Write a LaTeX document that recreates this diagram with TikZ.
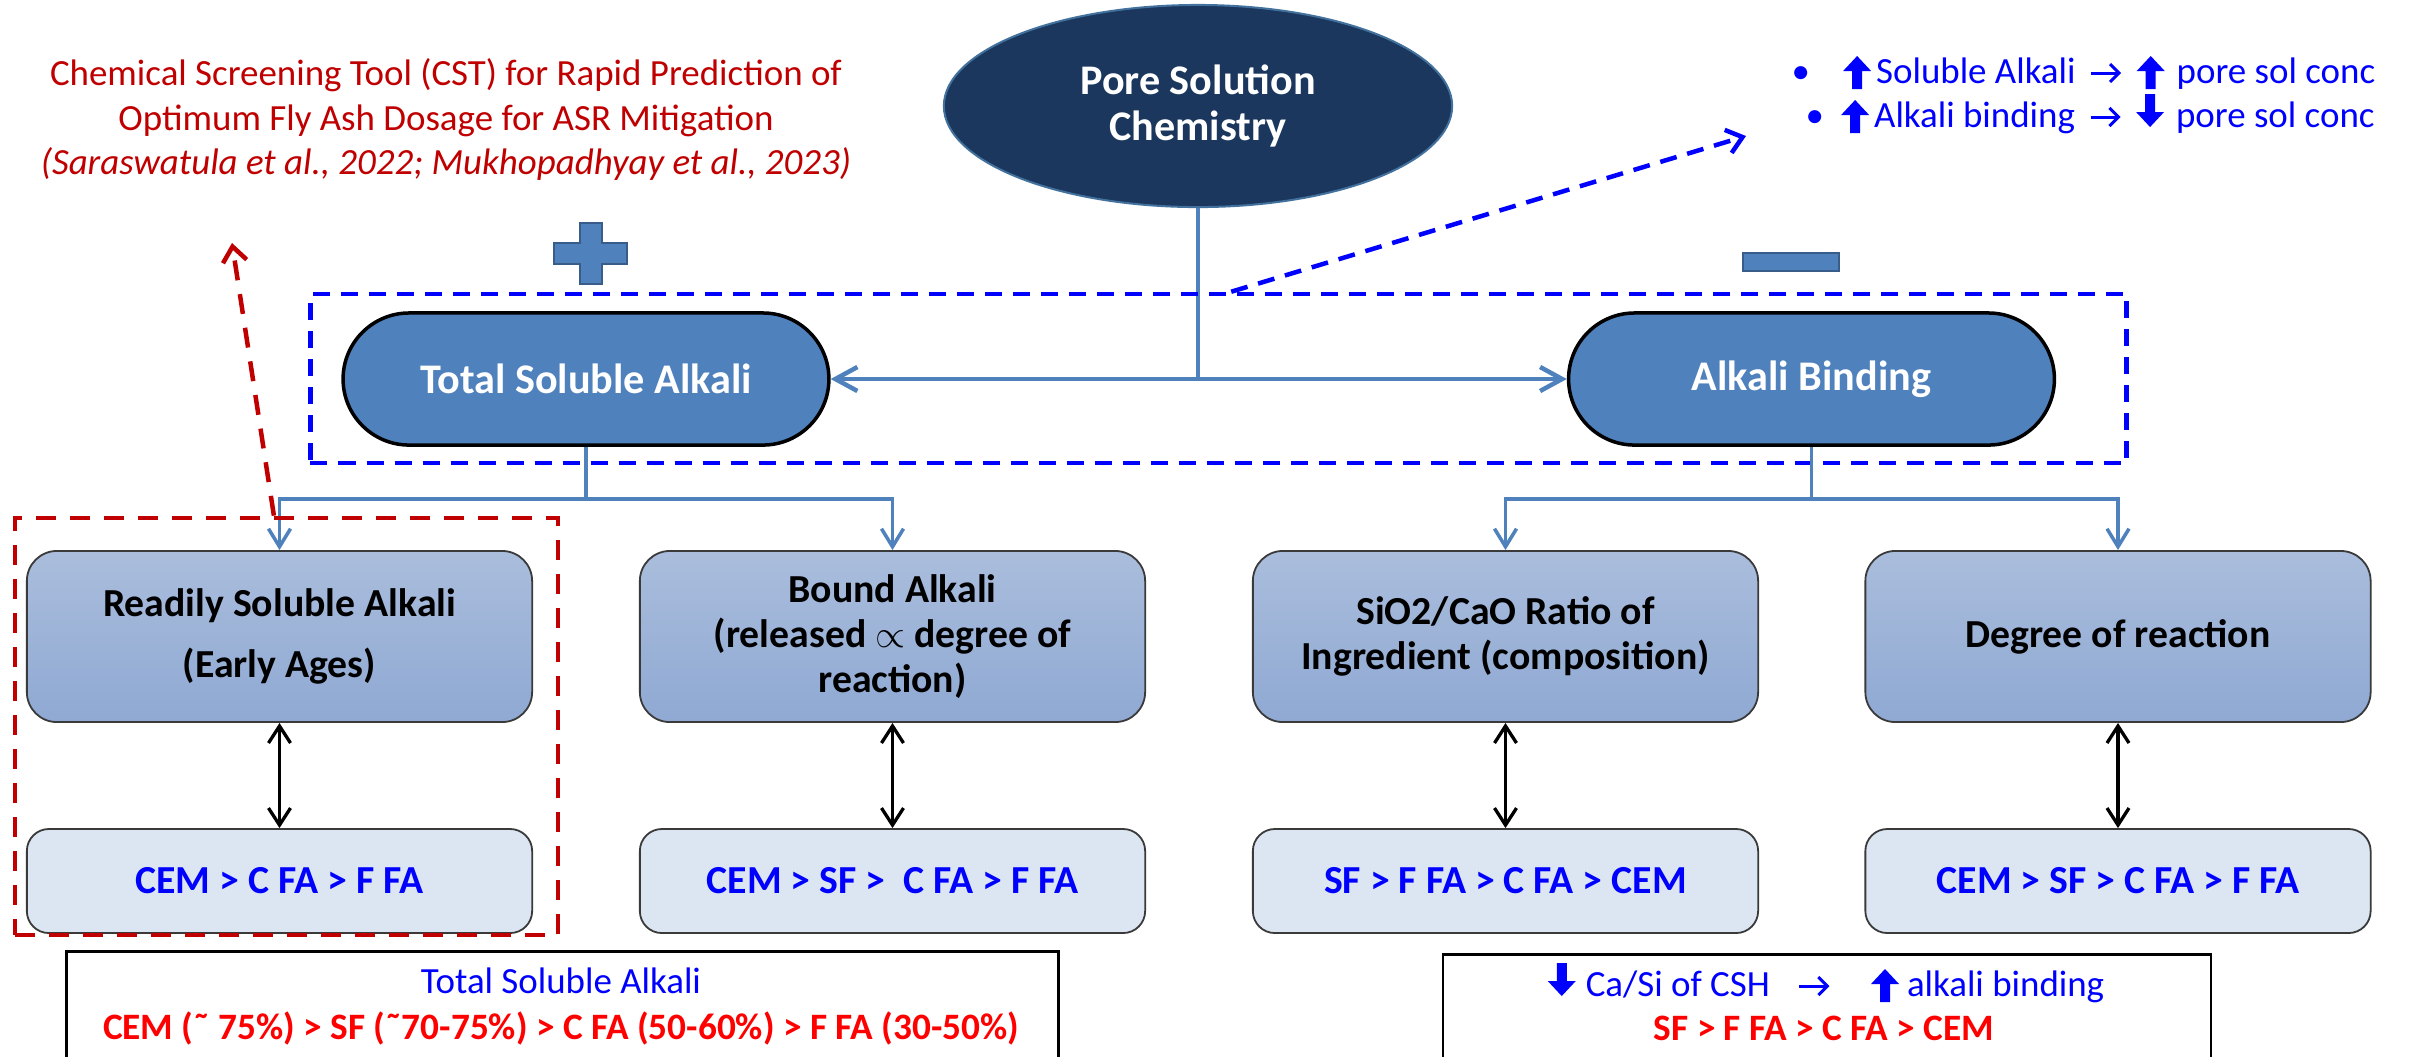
\documentclass[tikz,border=0pt]{standalone}
\usepackage{fontspec}
\setmainfont{Carlito}
\usetikzlibrary{shapes.geometric,shapes.misc,arrows.meta,calc}

\definecolor{navy}{HTML}{1B375E}
\definecolor{navyedge}{HTML}{41719C}
\definecolor{steel}{HTML}{4F81BD}
\definecolor{steeldark}{HTML}{385D8A}
\definecolor{boxtop}{HTML}{AABDDC}
\definecolor{boxbot}{HTML}{8FA9D3}
\definecolor{paleblue}{HTML}{DCE6F2}
\definecolor{boxedge}{HTML}{3A3A3A}
\definecolor{pureblue}{HTML}{0000FF}
\definecolor{purered}{HTML}{FF0000}
\definecolor{darkred}{HTML}{C00000}

% thick block arrows and a thin open arrow used inside text lines
\newcommand{\upthick}[1]{\tikz[x=1cm,y=1cm,baseline=0.06cm]\fill[#1] (0.09,0) -- (0.09,0.18) -- (0,0.18) -- (0.14,0.33) -- (0.28,0.18) -- (0.19,0.18) -- (0.19,0) -- cycle;}
\newcommand{\downthick}[1]{\tikz[x=1cm,y=1cm,baseline=0cm]\fill[#1] (0.09,0.33) -- (0.09,0.15) -- (0,0.15) -- (0.14,0) -- (0.28,0.15) -- (0.19,0.15) -- (0.19,0.33) -- cycle;}
\newcommand{\thinright}[1]{\tikz[x=1cm,y=1cm,baseline=0cm]\draw[#1,line width=0.03cm,-{Straight Barb[length=0.09cm,width=0.18cm]}] (0,0.1) -- (0.3,0.1);}

\begin{document}
\begin{tikzpicture}[x=0.01cm,y=-0.01cm,
  hub/.style={ellipse, fill=navy, draw=navyedge, line width=0.02cm,
    minimum width=5.08cm, minimum height=2.02cm, text=white, align=center,
    font=\fontsize{12}{13.1}\selectfont\bfseries, inner sep=0pt},
  pill/.style={rounded rectangle, fill=steel, draw=black, line width=0.035cm,
    minimum width=5.09cm, minimum height=1.32cm, text=white,
    font=\fontsize{12}{13.1}\selectfont\bfseries},
  factor/.style={rounded corners=0.3cm, top color=boxtop, bottom color=boxbot,
    draw=boxedge, line width=0.018cm, minimum width=5.05cm, minimum height=1.71cm,
    align=center, font=\fontsize{11.3}{12.7}\selectfont\bfseries, inner sep=0pt},
  rank/.style={rounded corners=0.22cm, fill=paleblue, draw=boxedge, line width=0.018cm,
    minimum width=5.05cm, minimum height=1.04cm, text=pureblue,
    font=\fontsize{11.3}{12.7}\selectfont\bfseries, inner sep=0pt},
  summary/.style={draw=black, line width=0.025cm, fill=white, inner sep=0pt, anchor=north},
  link/.style={draw=steel, line width=0.045cm},
  linkboth/.style={link, {Straight Barb[length=0.22cm,width=0.24cm]}-{Straight Barb[length=0.22cm,width=0.24cm]}},
  branch/.style={draw=steel, line width=0.035cm},
  branchto/.style={branch, -{Straight Barb[length=0.18cm,width=0.22cm]}},
  dbl/.style={draw=black, line width=0.033cm,
    {Straight Barb[length=0.17cm,width=0.22cm]}-{Straight Barb[length=0.17cm,width=0.22cm]}},
  bluedash/.style={draw=pureblue, line width=0.045cm, dash pattern=on 0.17cm off 0.11cm},
  reddash/.style={draw=darkred, line width=0.045cm, dash pattern=on 0.2cm off 0.14cm},
  note/.style={font=\fontsize{10.5}{12.6}\selectfont, inner sep=0pt},
]
\useasboundingbox (0,0) rectangle (2420,1056);
\clip (0,0) rectangle (2420,1056);

% ---- title note (left) ----
\node[note, text=darkred, anchor=base] (t1) at (446,85) {Chemical Screening Tool (CST) for Rapid Prediction of};
\node[note, text=darkred, anchor=base] (t2) at (446,130) {Optimum Fly Ash Dosage for ASR Mitigation};
\node[note, text=darkred, anchor=base] (t3) at (446,174) {\itshape (Saraswatula et al., 2022; Mukhopadhyay et al., 2023)};

% ---- rule note (right) ----
\node[note, text=pureblue, anchor=base west] (r1) at (1791,83)
  {•\hspace{0.33cm}\upthick{pureblue}\hspace{0.05cm}Soluble Alkali\hspace{0.14cm}\thinright{pureblue}\hspace{0.14cm}\upthick{pureblue}\hspace{0.12cm}pore sol conc};
\node[note, text=pureblue, anchor=base west] (r2) at (1805,127)
  {•\hspace{0.17cm}\upthick{pureblue}\hspace{0.05cm}Alkali binding\hspace{0.14cm}\thinright{pureblue}\hspace{0.14cm}\downthick{pureblue}\hspace{0.12cm}pore sol conc};
\coordinate (rulenote) at (1746,136);

% ---- hub and the two drivers ----
\node[hub] (psc) at (1198,106) {Pore Solution\\Chemistry};
\node[pill] (tsa) at (586,379) {Total Soluble Alkali};
\node[pill] (ab) at (1811.5,379) {Alkali Binding};

\draw[link] (psc.south) -- (psc.south |- tsa.east);
\draw[linkboth] (tsa.east) -- (ab.west);

% plus and minus signs
\filldraw[fill=steel, draw=steeldark, line width=0.02cm]
  (580,223) -- (602,223) -- (602,243) -- (627,243) -- (627,264) -- (602,264)
  -- (602,284) -- (580,284) -- (580,264) -- (554,264) -- (554,243) -- (580,243) -- cycle;
\filldraw[fill=steel, draw=steeldark, line width=0.02cm] (1743,253) rectangle (1839,271);

% group frame around the drivers
\node[bluedash, minimum width=18.15cm, minimum height=1.69cm, inner sep=0pt] (grp) at (1218.5,378.5) {};
\draw[bluedash, -{Straight Barb[length=0.15cm,width=0.24cm]}]
  ($(grp.north west)!0.507!(grp.north east)$) -- (rulenote);

% ---- factor boxes ----
\node[factor] (f1) at (279.5,636.5) {Readily Soluble Alkali\\[4.5pt](Early Ages)};
\node[factor] (f2) at (892.5,636.5) {Bound Alkali\\(released $\propto$ degree of\\reaction)};
\node[factor] (f3) at (1505.5,636.5) {SiO2/CaO Ratio of\\Ingredient (composition)};
\node[factor] (f4) at (2118,636.5) {Degree of reaction};

\node[rank] (c1) at (279.5,881) {CEM > C FA > F FA};
\node[rank] (c2) at (892.5,881) {CEM > SF >\ \ C FA > F FA};
\node[rank] (c3) at (1505.5,881) {SF > F FA > C FA > CEM};
\node[rank] (c4) at (2118,881) {CEM > SF > C FA > F FA};

% branches from the drivers
\coordinate (jl) at ($(tsa.south)+(0,52)$);
\coordinate (jr) at ($(ab.south)+(0,52)$);
\draw[branch] (tsa.south) -- (jl);
\draw[branchto] (jl) -| (f1.north);
\draw[branchto] (jl) -| (f2.north);
\draw[branch] (ab.south) -- (jr);
\draw[branchto] (jr) -| (f3.north);
\draw[branchto] (jr) -| (f4.north);

\foreach \i in {1,2,3,4} \draw[dbl] (f\i.south) -- (c\i.north);

% highlighted frame pointing to the screening tool note
\node[reddash, minimum width=5.43cm, minimum height=4.17cm, inner sep=0pt] (cst) at (286.5,726.5) {};
\coordinate (cstnote) at (232,243);
\draw[reddash, -{Straight Barb[length=0.15cm,width=0.24cm]}]
  ($(cst.north west)!0.477!(cst.north east)$) -- (cstnote);

% ---- summary boxes ----
\node[summary, minimum width=9.91cm, minimum height=1.3cm] (sl) at (562.5,950) {};
\node[note, text=pureblue, anchor=base] (sl1) at (561,993) {Total Soluble Alkali};
\node[note, text=purered, anchor=base, font=\fontsize{10.6}{12.6}\selectfont\bfseries] (sl2) at (561,1039)
  {CEM (˜ 75\%) > SF (˜70-75\%) > C FA (50-60\%) > F FA (30-50\%)};

\node[summary, minimum width=7.68cm, minimum height=1.3cm] (sr) at (1827,953) {};
\node[note, text=pureblue, anchor=base] (sr1) at (1826,996)
  {\downthick{pureblue}\hspace{0.1cm}Ca/Si of CSH\hspace{0.28cm}\thinright{pureblue}\hspace{0.4cm}\upthick{pureblue}\hspace{0.08cm}alkali binding};
\node[note, text=purered, anchor=base, font=\fontsize{10.6}{12.6}\selectfont\bfseries] (sr2) at (1824,1040)
  {SF > F FA > C FA > CEM};
\end{tikzpicture}
\end{document}
